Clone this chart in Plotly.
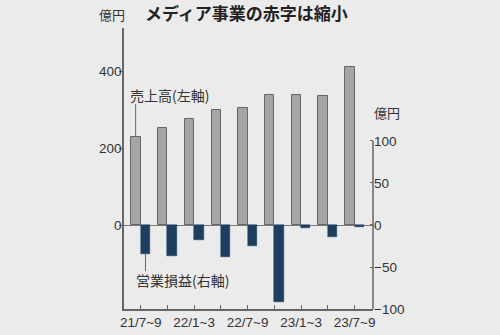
import plotly.graph_objects as go

# 四半期ごとの売上高(億円, 左軸)と営業損益(億円, 右軸)
quarters = ["21/7~9", "21/10~12", "22/1~3", "22/4~6", "22/7~9",
            "22/10~12", "23/1~3", "23/4~6", "23/7~9"]
tick_labels = ["21/7~9", "", "22/1~3", "", "22/7~9", "", "23/1~3", "", "23/7~9"]
sales = [229, 251, 275, 298, 304, 337, 337, 335, 410]
operating_profit = [-34, -37, -18, -38, -25, -92, -4, -14, -2]

BG = "#ebebeb"
TXT = "#333333"
GRAY = "#a4a5a9"
NAVY = "#1d3f5f"
FONT = "Liberation Sans, Noto Sans CJK JP, sans-serif"
CJK = "Noto Sans CJK JP, sans-serif"
TICK = dict(family=FONT, size=13.5, color=TXT)

fig = go.Figure()
fig.add_trace(go.Bar(
    x=quarters, y=sales, yaxis="y",
    marker=dict(color=GRAY, line=dict(color="#666666", width=1)),
    offset=-0.35, width=0.35, showlegend=False,
))
fig.add_trace(go.Bar(
    x=quarters, y=operating_profit, yaxis="y2",
    marker=dict(color=NAVY, line=dict(color=NAVY, width=0.5)),
    offset=0.0, width=0.35, showlegend=False,
))

fig.update_layout(
    width=500, height=335,
    margin=dict(l=124, r=127, t=28, b=26, autoexpand=False),
    paper_bgcolor=BG, plot_bgcolor=BG,
    font=dict(family=FONT, size=14, color=TXT),
    bargap=0,
    xaxis=dict(
        type="category", range=[-0.625, 8.69], automargin=False,
        tickmode="array", tickvals=quarters, ticktext=tick_labels,
        ticks="inside", ticklen=4, tickcolor="#666666",
        showline=True, linecolor="#666666", linewidth=1.5,
        showgrid=False, tickfont=TICK,
    ),
    yaxis=dict(
        range=[-218, 512], tickvals=[0, 200, 400], automargin=False,
        ticks="outside", ticklen=3, tickcolor="#666666", ticklabelstandoff=-5,
        showline=True, linecolor="#666666", linewidth=1.5,
        showgrid=False, zeroline=True, zerolinecolor="#777777", zerolinewidth=1,
        tickfont=TICK,
    ),
    yaxis2=dict(
        overlaying="y", side="right", anchor="x", automargin=False,
        range=[-100, 234.5], tickvals=[-100, -50, 0, 50, 100],
        ticks="inside", ticklen=3, tickcolor="#666666",
        showline=False, showgrid=False, zeroline=False,
        tickfont=TICK,
    ),
)

# 右軸の軸線は -100〜100 の範囲のみ
fig.add_shape(type="line", xref="paper", yref="y2", x0=1, x1=1, y0=-100, y1=100,
              line=dict(color="#666666", width=1.5))

# 凡例代わりの引き出し線
fig.add_shape(type="line", xref="x", yref="y", x0=-0.19, x1=-0.19, y0=sales[0], y1=315,
              line=dict(color="#666666", width=1))
fig.add_shape(type="line", xref="x", yref="y2", x0=0.18, x1=0.18,
              y0=operating_profit[0], y1=-55, line=dict(color="#666666", width=1))

fig.add_annotation(text="売上高(左軸)", xref="x", yref="paper", x=-0.47, y=0.76,
                   xanchor="left", yanchor="middle", showarrow=False,
                   font=dict(family=CJK, size=14, color=TXT))
fig.add_annotation(text="営業損益(右軸)", xref="x", yref="paper", x=-0.26, y=0.103,
                   xanchor="left", yanchor="middle", showarrow=False,
                   font=dict(family=CJK, size=14, color=TXT))

# タイトルと単位
fig.add_annotation(text="<b>メディア事業の赤字は縮小</b>", xref="paper", yref="paper",
                   x=0.078, y=1.056, xanchor="left", yanchor="middle", showarrow=False,
                   font=dict(family=CJK, size=17, color="#222222"))
fig.add_annotation(text="億円", xref="paper", yref="paper", x=0.012, y=1.048,
                   xanchor="right", yanchor="middle", showarrow=False,
                   font=dict(family=CJK, size=13, color=TXT))
fig.add_annotation(text="億円", xref="paper", yref="paper", x=0.995, y=0.7,
                   xanchor="left", yanchor="middle", showarrow=False,
                   font=dict(family=CJK, size=13, color=TXT))

fig.write_html("out.html")
